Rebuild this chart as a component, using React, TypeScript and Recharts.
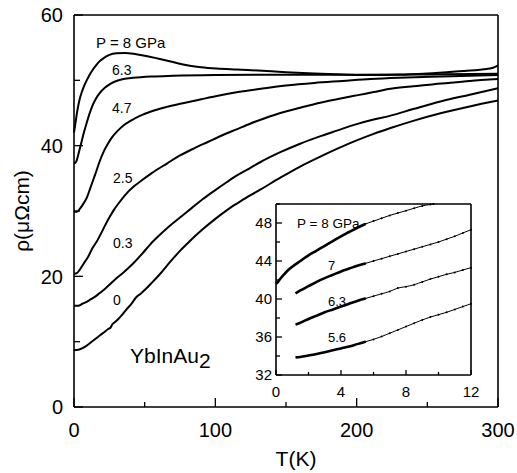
import React from 'react';
import { LineChart, Line, XAxis, YAxis } from 'recharts';

const FONT = "'Liberation Sans', Arial, Helvetica, sans-serif";

// ---------- main chart axes ----------
const mainXTicks = [0, 50, 100, 150, 200, 250, 300];
const mainXLabels = [0, 100, 200, 300];
const mainYTicks = [0, 10, 20, 30, 40, 50, 60];
const mainYLabels = [0, 20, 40, 60];

// ---------- main chart series: [T (K), rho (µΩcm)] ----------
const rho8Main = [[0,42.0],[1,43.4],[2,44.9],[3,46.1],[4,47.1],[6,48.5],[9,50.0],[12,51.2],[16,52.4],[18,52.9],[21,53.4],[25,53.9],[30,54.15],[36,54.2],[44,54.0],[52,53.7],[60,53.3],[70,52.8],[80,52.3],[90,52.0],[101,51.8],[115,51.65],[130,51.5],[150,51.25],[170,51.05],[190,50.9],[210,50.8],[230,50.85],[250,51.05],[270,51.35],[290,51.7],[296,51.9],[300,52.3]];
const rho63Main = [[0,37.3],[1,37.4],[2,37.8],[3,38.6],[5,40.3],[7,42.0],[9,43.5],[11,44.9],[13,46.1],[15,47.0],[18,48.0],[22,48.9],[26,49.5],[30,49.9],[35,50.2],[42,50.4],[55,50.6],[70,50.7],[100,50.8],[150,50.85],[200,50.85],[250,50.9],[300,51.0]];
const rho47Main = [[0,29.9],[2,29.9],[4,30.3],[6,30.9],[9,32.0],[12,33.8],[15,35.6],[18,37.5],[21,39.1],[24,40.3],[27,41.3],[31,42.3],[35,43.1],[40,43.8],[47,44.6],[54,45.2],[65,45.9],[77,46.5],[90,47.1],[101,47.6],[116,48.2],[132,48.7],[150,49.2],[170,49.6],[190,49.9],[210,50.2],[230,50.4],[260,50.6],[300,50.8]];
const rho25Main = [[0,20.4],[2,20.5],[4,21.0],[7,22.0],[10,23.0],[13,24.3],[16,25.3],[19,26.5],[22,27.8],[25,29.0],[28,30.1],[32,31.3],[36,32.4],[42,33.7],[48,34.7],[55,35.8],[66,37.3],[75,38.5],[85,39.6],[95,40.6],[105,41.6],[115,42.5],[125,43.4],[135,44.2],[146,45.0],[160,45.8],[175,46.6],[186,47.1],[200,47.7],[212,48.2],[224,48.7],[240,49.1],[260,49.5],[280,49.9],[300,50.2]];
const rho03Main = [[0,15.5],[3,15.5],[6,15.8],[9,16.1],[12,16.5],[15,16.9],[18,17.4],[22,18.1],[26,18.9],[30,19.7],[35,20.6],[42,22.0],[48,23.4],[54,24.9],[60,26.2],[66,27.4],[75,29.0],[83,30.4],[91,31.8],[100,33.2],[108,34.4],[115,35.4],[124,36.5],[132,37.5],[146,39.0],[160,40.3],[175,41.5],[186,42.3],[200,43.3],[212,44.0],[224,44.6],[240,45.6],[260,46.8],[280,47.8],[300,48.8]];
const rho0Main = [[0,8.7],[3,8.75],[6,9.0],[9,9.4],[12,9.9],[15,10.4],[18,10.9],[21,11.4],[24,11.9],[26,12.2],[27,12.6],[29,13.0],[31,13.4],[34,14.1],[37,14.9],[41,15.9],[44,16.8],[47,17.3],[50,17.9],[55,19.0],[61,20.4],[68,22.2],[75,23.9],[82,25.4],[90,27.0],[100,28.8],[108,30.1],[115,31.1],[124,32.3],[132,33.3],[146,35.1],[160,36.8],[175,38.4],[186,39.5],[200,40.8],[212,41.8],[224,42.7],[240,43.8],[260,45.0],[280,46.0],[300,46.9]];

const mainPressureLabels = ['P = 8 GPa', '6.3', '4.7', '2.5', '0.3', '0'];

// ---------- inset axes ----------
const insetXTicks = [0, 2, 4, 6, 8, 10, 12];
const insetXLabels = [0, 4, 8, 12];
const insetYTicks = [32, 34, 36, 38, 40, 42, 44, 46, 48, 50];
const insetYLabels = [32, 36, 40, 44, 48];

// ---------- inset series (thick low-T part and thin dotted part) ----------
const rho8InsetThick = [[0,41.6],[0.1,41.75],[0.25,42.1],[0.5,42.6],[0.75,43.05],[1,43.4],[1.5,44.0],[2,44.6],[2.5,45.1],[3,45.6],[3.5,46.1],[4,46.6],[4.5,47.05],[5,47.5],[5.5,47.9]];
const rho8InsetThin = [[5.5,47.9],[6,48.2],[6.5,48.5],[7,48.8],[7.5,49.05],[8,49.3],[8.5,49.55],[9,49.8],[9.5,49.95],[9.7,50.0]];
const rho7InsetThick = [[1.2,40.6],[1.5,40.9],[2,41.35],[2.5,41.8],[3,42.2],[3.5,42.55],[4,42.9],[4.5,43.2],[5,43.5],[5.5,43.75]];
const rho7InsetThin = [[5.5,43.75],[6,44.0],[6.5,44.25],[7,44.5],[7.5,44.75],[8,45.0],[8.5,45.25],[9,45.5],[9.5,45.75],[10,46.0],[10.5,46.3],[11,46.6],[11.5,46.95],[12,47.3]];
const rho63InsetThick = [[1.2,37.3],[1.5,37.5],[2,37.9],[2.5,38.25],[3,38.6],[3.5,38.9],[4,39.2],[4.5,39.5],[5,39.8],[5.5,40.05]];
const rho63InsetThin = [[5.5,40.05],[6,40.3],[6.5,40.55],[7,40.8],[7.5,41.15],[8,41.3],[8.5,41.5],[9,41.8],[9.5,42.1],[10,42.35],[10.5,42.6],[11,42.8],[11.5,43.05],[12,43.3]];
const rho56InsetThick = [[1.2,33.85],[1.5,33.9],[2,34.05],[2.5,34.2],[3,34.4],[3.5,34.6],[4,34.8],[4.5,35.0],[5,35.25],[5.5,35.5]];
const rho56InsetThin = [[5.5,35.5],[6,35.75],[6.5,36.05],[7,36.4],[7.5,36.75],[8,37.1],[8.5,37.45],[9,37.8],[9.5,38.1],[10,38.35],[10.5,38.6],[11,38.9],[11.5,39.2],[12,39.5]];

const insetPressureLabels = ['P = 8 GPa', '7', '6.3', '5.6'];

const toPts = (arr: number[][]) => arr.map(([T, r]) => ({ T, r }));

const AxisTick = (props: any) => {
  const { x, y, payload, side, majors, labels, majorLen, minorLen, fontSize, gap } = props;
  const v = payload?.value;
  const len = majors.includes(v) ? majorLen : minorLen;
  const showLabel = labels.includes(v);
  const sw = 1.3;
  let line: any = null;
  let text: any = null;
  if (side === 'bottom') {
    line = <line x1={x} y1={y} x2={x} y2={y - len} stroke="#000" strokeWidth={sw} />;
    if (showLabel)
      text = (
        <text x={x} y={y + gap} textAnchor="middle" fontSize={fontSize} fontFamily={FONT} fill="#000">
          {v}
        </text>
      );
  } else if (side === 'top') {
    line = <line x1={x} y1={y} x2={x} y2={y + len} stroke="#000" strokeWidth={sw} />;
  } else if (side === 'left') {
    line = <line x1={x} y1={y} x2={x + len} y2={y} stroke="#000" strokeWidth={sw} />;
    if (showLabel)
      text = (
        <text x={x - gap} y={y + fontSize * 0.36} textAnchor="end" fontSize={fontSize} fontFamily={FONT} fill="#000">
          {v}
        </text>
      );
  } else {
    line = <line x1={x} y1={y} x2={x - len} y2={y} stroke="#000" strokeWidth={sw} />;
  }
  return (
    <g>
      {line}
      {text}
    </g>
  );
};

const axisLine = { stroke: '#000', strokeWidth: 1.6 };

export default function App() {
  const mainSeries = [rho8Main, rho63Main, rho47Main, rho25Main, rho03Main, rho0Main];
  const insetThick = [rho8InsetThick, rho7InsetThick, rho63InsetThick, rho56InsetThick];
  const insetThin = [rho8InsetThin, rho7InsetThin, rho63InsetThin, rho56InsetThin];

  return (
    <div style={{ position: 'absolute', left: 0, top: 0, width: 517, height: 473, background: '#fff' }}>
      <div style={{ position: 'absolute', left: 0, top: 0 }}>
        <LineChart width={517} height={473} margin={{ top: 0, right: 0, bottom: 0, left: 0 }}>
          <XAxis
            dataKey="T"
            type="number"
            domain={[0, 300]}
            ticks={mainXTicks}
            interval={0}
            height={66}
            tickSize={0}
            tickMargin={0}
            tickLine={false}
            axisLine={axisLine}
            tick={<AxisTick side="bottom" majors={mainXLabels} labels={mainXLabels} majorLen={9} minorLen={5} fontSize={20} gap={30} />}
          />
          <XAxis
            xAxisId="top"
            orientation="top"
            dataKey="T"
            type="number"
            domain={[0, 300]}
            ticks={mainXTicks}
            interval={0}
            height={15}
            tickSize={0}
            tickMargin={0}
            tickLine={false}
            axisLine={axisLine}
            tick={<AxisTick side="top" majors={mainXLabels} labels={[]} majorLen={9} minorLen={5} fontSize={20} gap={0} />}
          />
          <YAxis
            type="number"
            domain={[0, 60]}
            ticks={mainYTicks}
            interval={0}
            width={74}
            tickSize={0}
            tickMargin={0}
            tickLine={false}
            axisLine={axisLine}
            tick={<AxisTick side="left" majors={mainYLabels} labels={mainYLabels} majorLen={9} minorLen={6} fontSize={20} gap={11} />}
          />
          <YAxis
            yAxisId="right"
            orientation="right"
            type="number"
            domain={[0, 60]}
            ticks={mainYTicks}
            interval={0}
            width={19}
            tickSize={0}
            tickMargin={0}
            tickLine={false}
            axisLine={axisLine}
            tick={<AxisTick side="right" majors={mainYLabels} labels={[]} majorLen={9} minorLen={5} fontSize={20} gap={0} />}
          />
          {mainSeries.map((s, i) => (
            <Line
              key={'m' + i}
              data={toPts(s)}
              dataKey="r"
              type="monotone"
              stroke="#000"
              strokeWidth={2}
              dot={false}
              activeDot={false}
              isAnimationActive={false}
            />
          ))}
        </LineChart>
      </div>

      <div style={{ position: 'absolute', left: 230, top: 195 }}>
        <LineChart width={250} height={215} margin={{ top: 0, right: 0, bottom: 0, left: 0 }}>
          <XAxis
            dataKey="T"
            type="number"
            domain={[0, 12]}
            ticks={insetXTicks}
            interval={0}
            height={35}
            tickSize={0}
            tickMargin={0}
            tickLine={false}
            axisLine={axisLine}
            tick={<AxisTick side="bottom" majors={insetXLabels} labels={insetXLabels} majorLen={5} minorLen={3} fontSize={15} gap={22} />}
          />
          <XAxis
            xAxisId="top"
            orientation="top"
            dataKey="T"
            type="number"
            domain={[0, 12]}
            ticks={insetXTicks}
            interval={0}
            height={9}
            tickSize={0}
            tickMargin={0}
            tickLine={false}
            axisLine={axisLine}
            tick={<AxisTick side="top" majors={insetXLabels} labels={[]} majorLen={5} minorLen={3} fontSize={15} gap={0} />}
          />
          <YAxis
            type="number"
            domain={[32, 50]}
            ticks={insetYTicks}
            interval={0}
            width={46}
            tickSize={0}
            tickMargin={0}
            tickLine={false}
            axisLine={axisLine}
            tick={<AxisTick side="left" majors={insetYLabels} labels={insetYLabels} majorLen={6} minorLen={4} fontSize={15} gap={4} />}
          />
          <YAxis
            yAxisId="right"
            orientation="right"
            type="number"
            domain={[32, 50]}
            ticks={insetYTicks}
            interval={0}
            width={9}
            tickSize={0}
            tickMargin={0}
            tickLine={false}
            axisLine={axisLine}
            tick={<AxisTick side="right" majors={insetYLabels} labels={[]} majorLen={6} minorLen={3} fontSize={15} gap={0} />}
          />
          {insetThick.map((s, i) => (
            <Line
              key={'it' + i}
              data={toPts(s)}
              dataKey="r"
              type="monotone"
              stroke="#000"
              strokeWidth={2.6}
              dot={false}
              activeDot={false}
              isAnimationActive={false}
            />
          ))}
          {insetThin.map((s, i) => (
            <Line
              key={'in' + i}
              data={toPts(s)}
              dataKey="r"
              type="monotone"
              stroke="#000"
              strokeWidth={1}
              dot={{ r: 1, fill: '#000', stroke: 'none' }}
              activeDot={false}
              isAnimationActive={false}
            />
          ))}
        </LineChart>
      </div>

      <svg
        width={517}
        height={473}
        style={{ position: 'absolute', left: 0, top: 0, pointerEvents: 'none' }}
        fontFamily={FONT}
        fill="#000"
      >
        <text x={96} y={48} fontSize={15}>{mainPressureLabels[0]}</text>
        <text x={112} y={75} fontSize={14}>{mainPressureLabels[1]}</text>
        <text x={112} y={113} fontSize={14}>{mainPressureLabels[2]}</text>
        <text x={113} y={183} fontSize={14}>{mainPressureLabels[3]}</text>
        <text x={113} y={248} fontSize={14}>{mainPressureLabels[4]}</text>
        <text x={113} y={305} fontSize={14}>{mainPressureLabels[5]}</text>
        <text x={130} y={363} fontSize={21}>
          YbInAu<tspan dy={5}>2</tspan>
        </text>

        <text x={297} y={228} fontSize={13.5}>{insetPressureLabels[0]}</text>
        <text x={328} y={270} fontSize={13}>{insetPressureLabels[1]}</text>
        <text x={328} y={306} fontSize={13}>{insetPressureLabels[2]}</text>
        <text x={328} y={342} fontSize={13}>{insetPressureLabels[3]}</text>

        <text x={296} y={466} fontSize={21} textAnchor="middle">T(K)</text>
        <text x={0} y={0} fontSize={21} textAnchor="middle" transform="translate(29,211) rotate(-90)">
          ρ(μΩcm)
        </text>
      </svg>
    </div>
  );
}
